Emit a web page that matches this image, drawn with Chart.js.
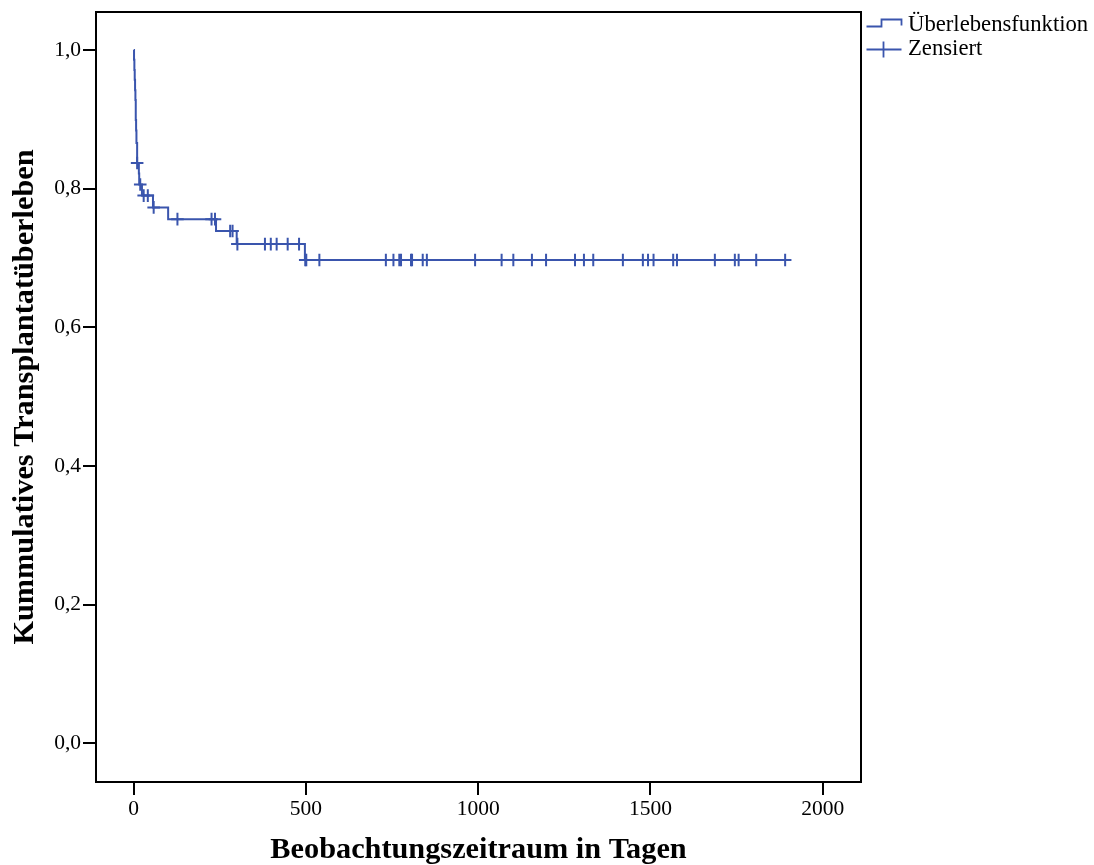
<!DOCTYPE html>
<html><head><meta charset="utf-8">
<script src="https://cdn.jsdelivr.net/npm/chart.js@4"></script>
<style>html,body{margin:0;padding:0;background:#fff}</style>
</head><body>
<canvas id="c" width="1094" height="865"></canvas>
<script>
// Kaplan-Meier step points (time in days, survival after the event)
const eventTimes     = [0, 1, 2, 3, 4, 5, 6, 7, 8, 10, 15, 16, 24, 56, 100, 239, 299, 497, 1891];
const survivalValues = [1.0, 0.986, 0.971, 0.957, 0.942, 0.928, 0.899, 0.884, 0.866, 0.837, 0.822, 0.806, 0.790, 0.773, 0.756, 0.739, 0.720, 0.697, 0.697];
// Censored observations (days)
const censorTimes = [10, 19, 29, 41, 58, 127, 226, 236, 280, 287, 301, 381, 398, 415, 447, 480, 498, 501, 539,
  732, 754, 771, 776, 805, 808, 839, 851, 991, 1068, 1102, 1156, 1197, 1281, 1307, 1334, 1420,
  1478, 1493, 1509, 1566, 1577, 1687, 1745, 1756, 1807, 1891];
const xTickValues = [0, 500, 1000, 1500, 2000];
const yTickValues = [0, 0.2, 0.4, 0.6, 0.8, 1.0];
const yTickLabels = ['0,0', '0,2', '0,4', '0,6', '0,8', '1,0'];
const xTitle = 'Beobachtungszeitraum in Tagen';
const yTitle = 'Kummulatives Transplantatüberleben';
const legendLabels = ['Überlebensfunktion', 'Zensiert'];

const BLUE = '#3a55ad';
const FONT = "'Liberation Serif', 'Times New Roman', serif";

function survivalAt(t) {
  let v = survivalValues[0];
  for (let i = 0; i < eventTimes.length; i++) { if (eventTimes[i] <= t) v = survivalValues[i]; }
  return v;
}

const curveData = eventTimes.map((t, i) => ({x: t, y: survivalValues[i]}));
const censorData = censorTimes.map(t => ({x: t, y: survivalAt(t)}));

const framePlugin = {
  id: 'frame',
  afterDraw(chart) {
    const {ctx, chartArea: a} = chart;
    ctx.save();
    ctx.strokeStyle = '#000';
    ctx.lineWidth = 2;
    ctx.strokeRect(a.left, a.top, a.right - a.left, a.bottom - a.top);
    ctx.restore();
  }
};

const legendPlugin = {
  id: 'customLegend',
  afterDraw(chart) {
    const ctx = chart.ctx;
    ctx.save();
    ctx.strokeStyle = BLUE;
    ctx.lineWidth = 1.8;
    ctx.beginPath();
    ctx.moveTo(866.5, 26.5); ctx.lineTo(881.5, 26.5); ctx.lineTo(881.5, 19.5);
    ctx.lineTo(901.5, 19.5); ctx.lineTo(901.5, 25.5);
    ctx.stroke();
    ctx.beginPath();
    ctx.moveTo(866.5, 49.5); ctx.lineTo(901.5, 49.5);
    ctx.moveTo(883.5, 41.5); ctx.lineTo(883.5, 57.5);
    ctx.stroke();
    ctx.fillStyle = '#000';
    ctx.font = "22.7px " + FONT;
    ctx.textBaseline = 'middle';
    ctx.textAlign = 'left';
    ctx.fillText(legendLabels[0], 908, 25);
    ctx.fillText(legendLabels[1], 908, 49);
    ctx.restore();
  }
};

new Chart(document.getElementById('c'), {
  type: 'scatter',
  data: {
    datasets: [
      {
        label: legendLabels[0],
        data: curveData,
        showLine: true,
        stepped: 'before',
        borderColor: BLUE,
        borderWidth: 2,
        pointRadius: 0,
        fill: false
      },
      {
        label: legendLabels[1],
        data: censorData,
        showLine: false,
        pointStyle: 'cross',
        pointRadius: 6.3,
        pointBorderColor: BLUE,
        pointBorderWidth: 2,
        pointBackgroundColor: BLUE
      }
    ]
  },
  options: {
    responsive: false,
    animation: false,
    devicePixelRatio: 1,
    layout: {padding: {left: 0, top: 12, right: 233, bottom: 0}},
    plugins: {legend: {display: false}, tooltip: {enabled: false}},
    scales: {
      x: {
        type: 'linear',
        min: -109.4, max: 2111.2,
        afterFit(s) { s.height = 83; s.paddingLeft = 0; s.paddingRight = 0; },
        afterBuildTicks(s) { s.ticks = xTickValues.map(v => ({value: v})); },
        border: {display: false},
        grid: {drawOnChartArea: false, drawTicks: true, tickLength: 13, color: '#000', lineWidth: 2},
        ticks: {color: '#000', padding: 1, font: {family: FONT, size: 21.5}, callback: v => String(v)},
        title: {display: true, text: xTitle, color: '#000', padding: {top: 0, bottom: 0},
          font: {family: FONT, size: 30.3, weight: 'bold', lineHeight: 1}}
      },
      y: {
        type: 'linear',
        min: -0.0558, max: 1.0548,
        afterFit(s) { s.width = 96; s.paddingTop = 0; s.paddingBottom = 0; },
        afterBuildTicks(s) { s.ticks = yTickValues.map(v => ({value: v})); },
        border: {display: false},
        grid: {drawOnChartArea: false, drawTicks: true, tickLength: 13, color: '#000', lineWidth: 2},
        ticks: {color: '#000', padding: 2, font: {family: FONT, size: 21.5},
          callback: (v) => { const i = yTickValues.findIndex(t => Math.abs(t - v) < 1e-9); return i >= 0 ? yTickLabels[i] : ''; }},
        title: {display: true, text: yTitle, color: '#000', padding: {top: 10, bottom: 0},
          font: {family: FONT, size: 30.3, weight: 'bold', lineHeight: 1}}
      }
    }
  },
  plugins: [framePlugin, legendPlugin]
});
</script>
</body></html>
